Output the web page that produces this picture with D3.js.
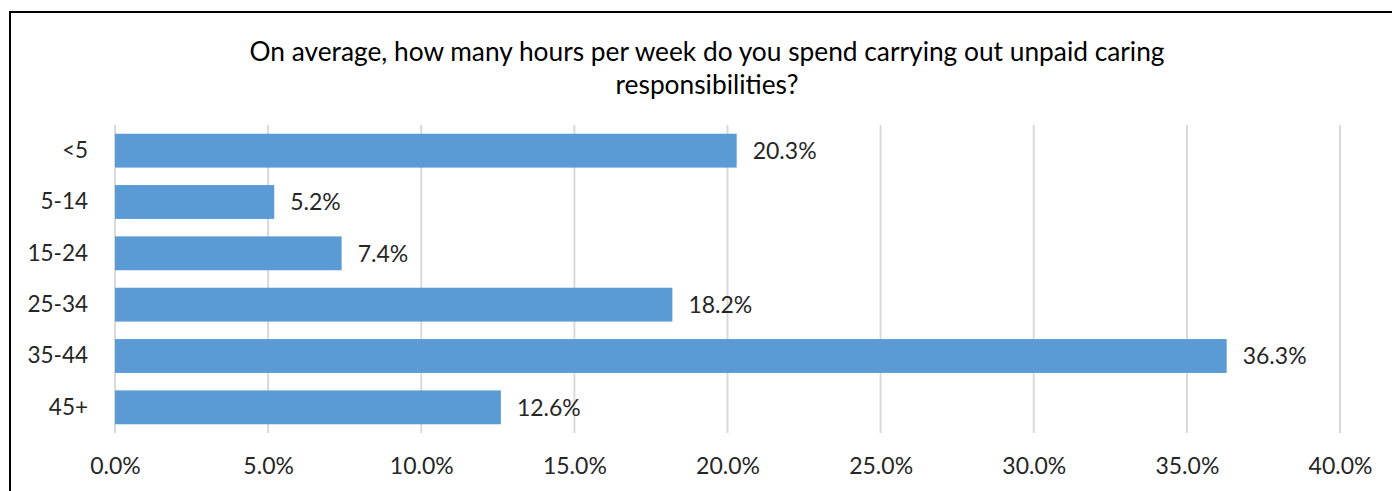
<!DOCTYPE html>
<html>
<head>
<meta charset="utf-8">
<script src="https://cdn.jsdelivr.net/npm/d3@7/dist/d3.min.js"></script>
<style>
  html, body { margin: 0; padding: 0; background: #fff; }
  svg { display: block; font-family: Lato, "Noto Sans", sans-serif; }
</style>
</head>
<body>
<svg id="chart" width="1392" height="491"></svg>
<script>
const categories = ["<5", "5-14", "15-24", "25-34", "35-44", "45+"];
const values = [20.3, 5.2, 7.4, 18.2, 36.3, 12.6];
const tickValues = [0, 5, 10, 15, 20, 25, 30, 35, 40];
const titleLines = ["On average, how many hours per week do you spend carrying out unpaid caring", "responsibilities?"];

const svg = d3.select("#chart");
const W = 1392, H = 491;

// chart border
svg.append("rect")
  .attr("x", 10).attr("y", 12)
  .attr("width", W + 20).attr("height", H + 20)
  .attr("fill", "none").attr("stroke", "#000").attr("stroke-width", 2);

const x = d3.scaleLinear().domain([0, 40]).range([115, 1340]);
const y = d3.scaleBand().domain(categories).range([125, 433]).paddingInner(0.34).paddingOuter(0.17);

// title
const title = svg.append("g");
titleLines.forEach((t, i) => {
  title.append("text")
    .attr("x", 707).attr("y", 61 + i * 33)
    .attr("text-anchor", "middle")
    .attr("font-size", 26.3)
    .attr("fill", "#000")
    .text(t);
});

// gridlines
svg.append("g")
  .selectAll("line")
  .data(tickValues)
  .join("line")
  .attr("x1", d => x(d)).attr("x2", d => x(d))
  .attr("y1", 125).attr("y2", 433)
  .attr("stroke", "#d9d9d9").attr("stroke-width", 2);

// bars
svg.append("g")
  .selectAll("rect")
  .data(values)
  .join("rect")
  .attr("x", x(0))
  .attr("y", (d, i) => y(categories[i]))
  .attr("width", d => x(d) - x(0))
  .attr("height", y.bandwidth())
  .attr("fill", "#5b9bd5");

// value labels
svg.append("g")
  .selectAll("text")
  .data(values)
  .join("text")
  .attr("x", d => x(d) + 16)
  .attr("y", (d, i) => y(categories[i]) + y.bandwidth() / 2)
  .attr("dy", "0.36em")
  .attr("font-size", 23)
  .attr("fill", "#262626")
  .text(d => d.toFixed(1) + "%");

// y axis (category labels)
const yAxis = d3.axisLeft(y).tickSize(0).tickPadding(0);
const yg = svg.append("g").attr("transform", "translate(88,0)").call(yAxis);
yg.select(".domain").remove();
yg.selectAll("text").attr("font-size", 22.5).attr("fill", "#262626").attr("font-family", "Lato, sans-serif");

// x axis
const xAxis = d3.axisBottom(x).tickValues(tickValues).tickSize(0).tickPadding(0).tickFormat(d => d.toFixed(1) + "%");
const xg = svg.append("g").attr("transform", "translate(0,458)").call(xAxis);
xg.select(".domain").remove();
xg.selectAll("text").attr("font-size", 23).attr("fill", "#262626").attr("font-family", "Lato, sans-serif");
</script>
</body>
</html>
